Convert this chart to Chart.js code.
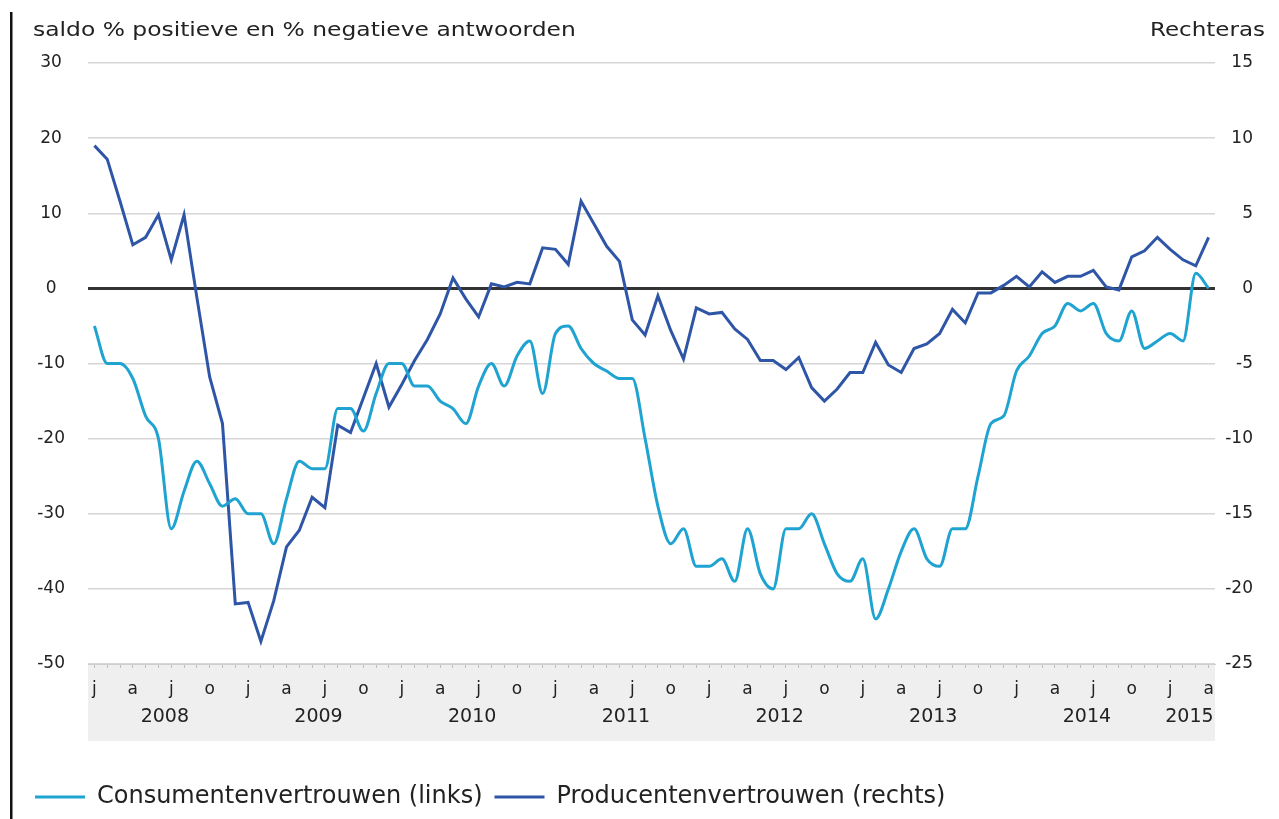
<!DOCTYPE html>
<html><head><meta charset="utf-8">
<script src="https://cdn.jsdelivr.net/npm/chart.js@4.4.1/dist/chart.umd.min.js"></script>
<style>html,body{margin:0;padding:0;background:#fff;overflow:hidden}</style>
</head><body>
<canvas id="c" width="1279" height="819"></canvas>
<script>
const titleLeft = 'saldo % positieve en % negatieve antwoorden';
const titleRight = 'Rechteras';
const years = ['2008','2009','2010','2011','2012','2013','2014','2015'];
const monthCodes = ['jan','feb','mrt','apr','mei','jun','jul','aug','sep','okt','nov','dec'];
const quarterTickLabels = ['j','a','j','o'];
const lastMonthCount = 4; // 2015: jan-apr
const categories = [];
years.forEach((y, yi) => {
  const n = yi === years.length - 1 ? lastMonthCount : 12;
  for (let m = 0; m < n; m++) categories.push(monthCodes[m] + ' ' + y);
});

const consumentenvertrouwen = [
  -5, -10, -10, -12, -17, -20, -32, -27, -23, -26, -29, -28,
  -30, -30, -34, -28, -23, -24, -24, -16, -16, -19, -14, -10,
  -10, -13, -13, -15, -16, -18, -13, -10, -13, -9, -7, -14,
  -6, -5, -8, -10, -11, -12, -12, -20, -29, -34, -32, -37,
  -37, -36, -39, -32, -38, -40, -32, -32, -30, -34, -38, -39,
  -36, -44, -40, -35, -32, -36, -37, -32, -32, -25, -18, -17,
  -11, -9, -6, -5, -2, -3, -2, -6, -7, -3, -8, -7,
  -6, -7, 2, 0
];
const producentenvertrouwen = [
  9.5, 8.6, 5.8, 2.9, 3.4, 4.9, 1.9, 4.9, -0.6, -5.9, -9.0, -21.0,
  -20.9, -23.5, -20.8, -17.2, -16.1, -13.9, -14.6, -9.1, -9.6, -7.3, -5.0, -7.9,
  -6.4, -4.8, -3.4, -1.7, 0.7, -0.7, -1.9, 0.3, 0.1, 0.4, 0.3, 2.7,
  2.6, 1.6, 5.8, 4.3, 2.8, 1.8, -2.1, -3.1, -0.5, -2.8, -4.7, -1.3,
  -1.7, -1.6, -2.7, -3.4, -4.8, -4.8, -5.4, -4.6, -6.6, -7.5, -6.7, -5.6,
  -5.6, -3.6, -5.1, -5.6, -4.0, -3.7, -3.0, -1.4, -2.3, -0.3, -0.3, 0.2,
  0.8, 0.1, 1.1, 0.4, 0.8, 0.8, 1.2, 0.1, -0.1, 2.1, 2.5, 3.4,
  2.6, 1.9, 1.5, 3.4
];
const leftTicks = {min: -50, max: 30, step: 10};
const rightTicks = {min: -25, max: 15, step: 5};

const FONT = '"DejaVu Sans", sans-serif';
const TEXT = '#222';

function stretchedText(ctx, text, x, y, align, sx) {
  ctx.save();
  ctx.translate(x, y);
  ctx.scale(sx, 1);
  ctx.textAlign = align;
  ctx.fillText(text, 0, 0);
  ctx.restore();
}

const decor = {
  id: 'decor',
  beforeDraw(chart) {
    const {ctx, chartArea: a} = chart;
    ctx.save();
    ctx.fillStyle = '#ffffff';
    ctx.fillRect(0, 0, chart.width, chart.height);
    ctx.fillStyle = '#efefef';
    ctx.fillRect(a.left, a.bottom, a.right - a.left, 77);
    ctx.fillStyle = '#111';
    ctx.fillRect(10, 12, 2.5, chart.height - 12);
    ctx.restore();
  },
  afterDraw(chart) {
    const {ctx} = chart;
    const xs = chart.scales.x;
    ctx.save();
    ctx.fillStyle = TEXT;
    ctx.textBaseline = 'middle';
    ctx.font = '20px ' + FONT;
    stretchedText(ctx, titleLeft, 33, 31, 'left', 1.17);
    stretchedText(ctx, titleRight, 1265, 31, 'right', 1.15);
    ctx.font = '19px ' + FONT;
    ctx.textAlign = 'center';
    years.forEach((y, i) => {
      const first = i * 12;
      const last = Math.min(first + 11, categories.length - 1);
      const px = (xs.getPixelForValue(first) + xs.getPixelForValue(last)) / 2;
      ctx.fillText(y, px, 717);
    });
    ctx.restore();
  }
};

new Chart(document.getElementById('c'), {
  type: 'line',
  data: {
    labels: categories,
    datasets: [
      {
        label: 'Consumentenvertrouwen (links)',
        data: consumentenvertrouwen,
        yAxisID: 'yL',
        borderColor: '#1fa3d1',
        backgroundColor: '#1fa3d1',
        borderWidth: 3,
        pointRadius: 0,
        pointStyle: 'line',
        cubicInterpolationMode: 'monotone',
        fill: false
      },
      {
        label: 'Producentenvertrouwen (rechts)',
        data: producentenvertrouwen,
        yAxisID: 'yR',
        borderColor: '#2f56a6',
        backgroundColor: '#2f56a6',
        borderWidth: 3,
        pointRadius: 0,
        pointStyle: 'line',
        tension: 0,
        fill: false
      }
    ]
  },
  options: {
    responsive: false,
    devicePixelRatio: 1,
    animation: false,
    layout: {padding: {left: 23, right: 26, top: 63, bottom: 0}},
    plugins: {
      tooltip: {enabled: false},
      legend: {
        position: 'bottom',
        align: 'start',
        labels: {
          usePointStyle: true,
          pointStyle: 'line',
          pointStyleWidth: 50,
          padding: 12,
          color: TEXT,
          font: {family: FONT, size: 24}
        }
      }
    },
    scales: {
      x: {
        type: 'category',
        offset: true,
        afterFit: s => { s.height = 109; },
        grid: {drawOnChartArea: false, drawTicks: true, tickLength: 4, color: '#bdbdbd', offset: false},
        border: {color: '#cfcfcf', width: 1},
        ticks: {
          autoSkip: false,
          maxRotation: 0,
          minRotation: 0,
          padding: 11,
          color: TEXT,
          font: {family: FONT, size: 17},
          callback: (v, i) => (i % 3 === 0 ? quarterTickLabels[(i % 12) / 3] : '')
        }
      },
      yL: {
        position: 'left',
        min: leftTicks.min,
        max: leftTicks.max,
        afterFit: s => { s.width = 65; },
        border: {display: false},
        grid: {
          drawTicks: false,
          color: c => (c.tick.value === 0 ? '#333333' : '#d6d6d6'),
          lineWidth: c => (c.tick.value === 0 ? 3 : 1.5)
        },
        ticks: {
          stepSize: leftTicks.step,
          crossAlign: 'center',
          padding: 23,
          color: TEXT,
          font: {family: FONT, size: 17}
        }
      },
      yR: {
        position: 'right',
        min: rightTicks.min,
        max: rightTicks.max,
        afterFit: s => { s.width = 38; },
        border: {display: false},
        grid: {drawOnChartArea: false, drawTicks: false},
        ticks: {
          stepSize: rightTicks.step,
          crossAlign: 'far',
          color: TEXT,
          font: {family: FONT, size: 17}
        }
      }
    }
  },
  plugins: [decor]
});
</script>
</body></html>
